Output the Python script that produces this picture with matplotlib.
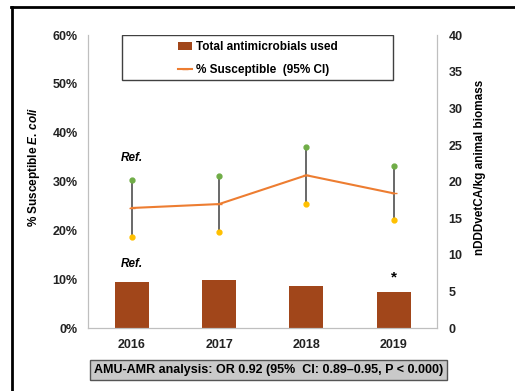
import matplotlib
matplotlib.use("Agg")
import matplotlib.pyplot as plt
from matplotlib.lines import Line2D
from matplotlib.patches import Patch, Rectangle
import numpy as np

plt.rcParams['font.family'] = ['Liberation Sans', 'DejaVu Sans']
plt.rcParams['font.weight'] = 'bold'
plt.rcParams['axes.labelweight'] = 'bold'
plt.rcParams['mathtext.fontset'] = 'custom'
plt.rcParams['mathtext.it'] = 'Liberation Sans:italic:bold'
plt.rcParams['mathtext.rm'] = 'Liberation Sans:bold'

# data
years = ['2016', '2017', '2018', '2019']
amu = [6.3, 6.5, 5.7, 4.9]                 # nDDDvetCA/kg animal biomass
susceptible = [24.6, 25.4, 31.3, 27.6]     # % susceptible E. coli
ci_low = [18.6, 19.7, 25.4, 22.1]
ci_high = [30.3, 31.1, 37.1, 33.2]

x = np.arange(len(years)) + 0.5

fig = plt.figure(figsize=(5.15, 3.91), dpi=100)
ax = fig.add_axes([0.171, 0.161, 0.678, 0.749])
ax2 = ax.twinx()

grey = '#bfbfbf'
for a in (ax, ax2):
    a.set_xlim(0, 4)
    a.spines['top'].set_visible(False)
    for s in ('left', 'right', 'bottom'):
        a.spines[s].set_color(grey)
    a.tick_params(length=0, labelsize=9, labelcolor='#222222')

# bars on the right axis
ax2.bar(x, amu, width=0.39, color='#a1461a', zorder=2)
ax2.set_ylim(0, 40)
ax2.set_yticks(range(0, 41, 5))
ax2.tick_params(axis='y', pad=8)

# susceptibility with CI
ax.vlines(x, ci_low, ci_high, color='#404040', lw=1.1, zorder=3)
ax.plot(x, ci_high, 'o', color='#70ad47', ms=3.5, zorder=4)
ax.plot(x, ci_low, 'o', color='#ffc000', ms=3.5, zorder=4)
ax.plot(x, susceptible, '-', color='#ed7d31', lw=1.5, marker='_', ms=5, zorder=5)
ax.set_ylim(0, 60)
ax.set_yticks(range(0, 61, 10))
ax.set_yticklabels([f'{v}%' for v in range(0, 61, 10)])
ax.tick_params(axis='y', pad=7.5)
ax.set_xticks(x)
ax.set_xticklabels(years)
ax.tick_params(axis='x', pad=8)
ax.set_zorder(ax2.get_zorder() + 1)
ax.patch.set_visible(False)

ax.set_ylabel(r'% Susceptible $\mathit{E.\,coli}$', fontsize=8.5)
ax.yaxis.set_label_coords(-0.132, 0.55)
ax2.set_ylabel('nDDDvetCA/kg animal biomass', fontsize=8.5)
ax2.yaxis.set_label_coords(1.105, 0.55)

# annotations
ax.text(x[0], ci_high[0] + 4.5, 'Ref.', style='italic', ha='center', va='center', fontsize=8.5)
ax2.text(x[0], amu[0] + 2.5, 'Ref.', style='italic', ha='center', va='center', fontsize=8.5)
ax2.text(x[3], amu[3] + 2.0, '*', ha='center', va='center', fontsize=11)

# legend in a wide box
ax.add_patch(Rectangle((0.097, 0.846), 0.777, 0.154, transform=ax.transAxes,
                       facecolor='white', edgecolor='#404040', lw=1.0, zorder=6))
handles = [Patch(facecolor='#a1461a'),
           Line2D([0], [0], color='#ed7d31', lw=1.5, marker='_', ms=5)]
leg = ax.legend(handles, ['Total antimicrobials used', '% Susceptible  (95% CI)'],
                loc='center', bbox_to_anchor=(0.486, 0.92), fontsize=8.5,
                frameon=False, handlelength=1.2, handletextpad=0.3,
                borderpad=0.0, labelspacing=0.95, borderaxespad=0)
leg.set_zorder(7)
leg._legend_box.align = 'left'

fig.text(0.521, 0.054, 'AMU-AMR analysis: OR 0.92 (95%  CI: 0.89\u20130.95, P < 0.000)',
         ha='center', va='center', fontsize=9,
         bbox=dict(boxstyle='square,pad=0.3', facecolor='#c9c9c9', edgecolor='#555555', lw=1))

# outer frame lines
fig.add_artist(Line2D([0.023, 0.023], [0.0, 0.982], color='black', lw=2))
fig.add_artist(Line2D([0.022, 1.0], [0.982, 0.982], color='black', lw=2))

fig.savefig('out.png', dpi=100)
